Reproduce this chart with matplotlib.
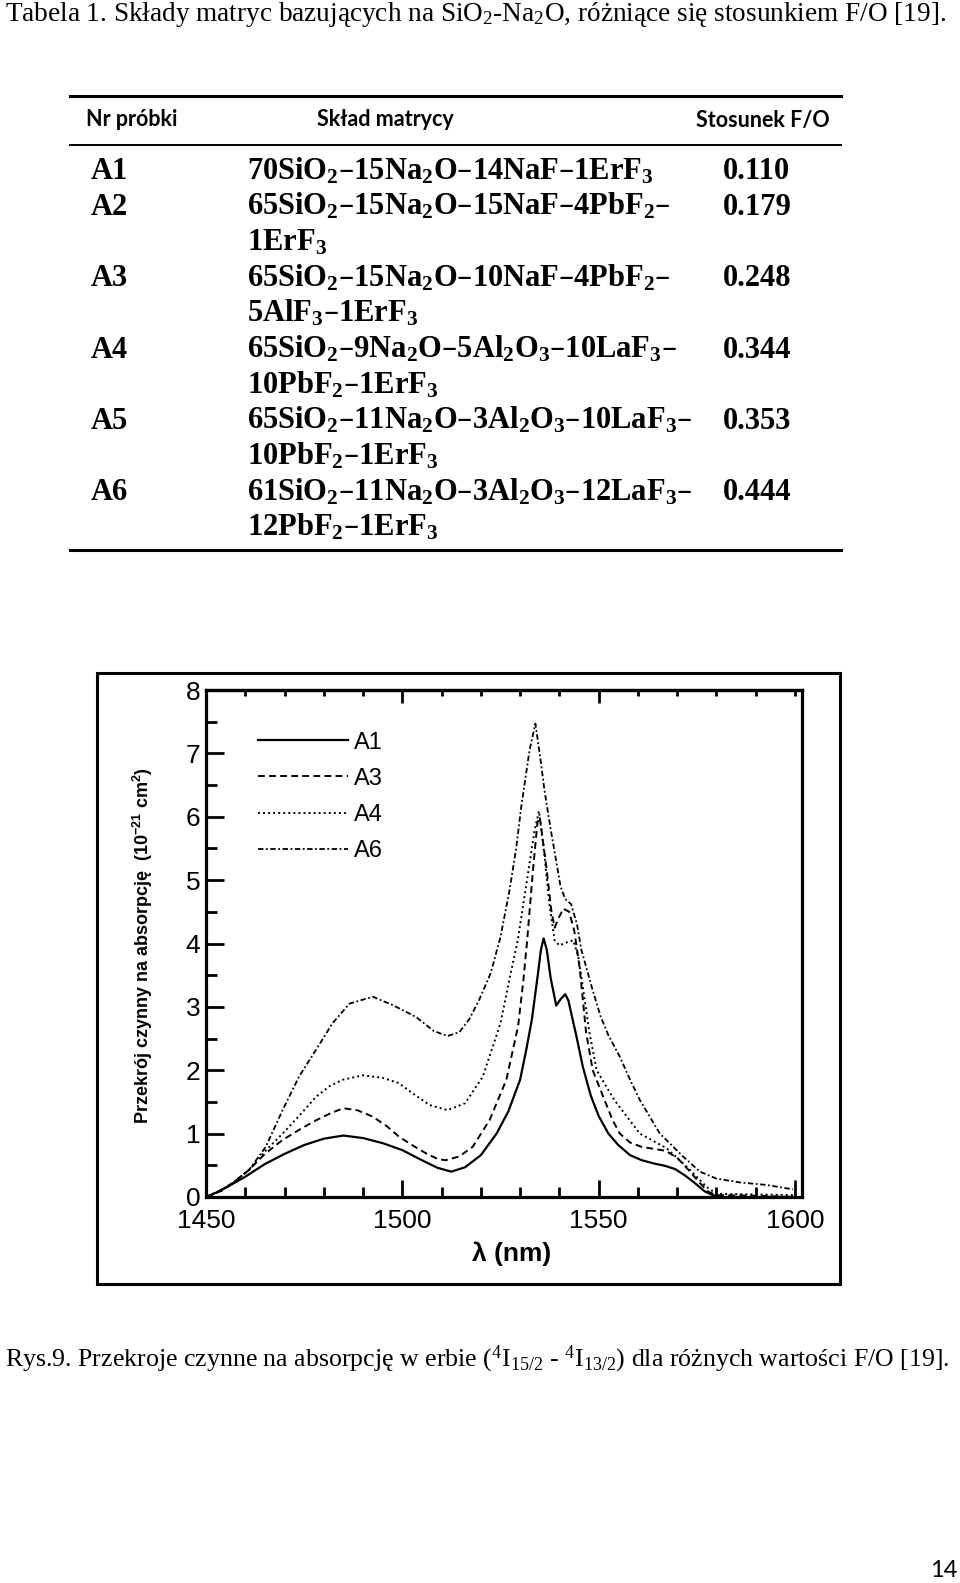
import matplotlib.pyplot as plt
from matplotlib.lines import Line2D
from matplotlib.patches import Rectangle
from matplotlib.ticker import MultipleLocator

plt.rcParams['font.family'] = 'Liberation Sans'
plt.rcParams['mathtext.default'] = 'regular'

# --- tabela ---
title = "Tabela 1. Składy matryc bazujących na SiO$_2$-Na$_2$O, różniące się stosunkiem F/O [19]."
headers = ["Nr próbki", "Skład matrycy", "Stosunek F/O"]
sample_ids = ["A1", "A2", "A3", "A4", "A5", "A6"]
compositions = [
    ["70SiO$_2$–15Na$_2$O–14NaF–1ErF$_3$"],
    ["65SiO$_2$–15Na$_2$O–15NaF–4PbF$_2$–", "1ErF$_3$"],
    ["65SiO$_2$–15Na$_2$O–10NaF–4PbF$_2$–", "5AlF$_3$–1ErF$_3$"],
    ["65SiO$_2$–9Na$_2$O–5Al$_2$O$_3$–10LaF$_3$–", "10PbF$_2$–1ErF$_3$"],
    ["65SiO$_2$–11Na$_2$O–3Al$_2$O$_3$–10LaF$_3$–", "10PbF$_2$–1ErF$_3$"],
    ["61SiO$_2$–11Na$_2$O–3Al$_2$O$_3$–12LaF$_3$–", "12PbF$_2$–1ErF$_3$"],
]
fo_ratios = ["0.110", "0.179", "0.248", "0.344", "0.353", "0.444"]

caption = ("Rys.9. Przekroje czynne na absorpcję w erbie ($^4$I$_{15/2}$ - $^4$I$_{13/2}$) "
           "dla różnych wartości F/O [19].")
page_number = "14"

# --- wykres: przekroj czynny na absorpcje ---
wl_a1 = [1450, 1453, 1456, 1460, 1465, 1470, 1475, 1480, 1485, 1490, 1495, 1500, 1505, 1509,
         1512.5, 1516, 1520, 1524, 1527, 1530, 1531.5, 1533, 1534.5, 1535.3, 1536, 1536.8,
         1537.8, 1539.2, 1540.3, 1541.5, 1542.3, 1543.2, 1544.3, 1546, 1548, 1550, 1552.5,
         1555, 1558, 1561, 1564, 1567, 1569.5, 1572, 1574.5, 1577, 1579, 1581, 1590, 1600]
sigma_a1 = [0.0, 0.08, 0.18, 0.32, 0.52, 0.68, 0.82, 0.92, 0.97, 0.93, 0.85, 0.74, 0.58, 0.46,
            0.40, 0.47, 0.66, 1.0, 1.35, 1.85, 2.3, 2.8, 3.5, 3.9, 4.08, 3.9,
            3.45, 3.02, 3.12, 3.2, 3.1, 2.85, 2.55, 2.05, 1.6, 1.28, 1.0,
            0.82, 0.66, 0.58, 0.53, 0.49, 0.44, 0.34, 0.22, 0.09, 0.03, 0.0, 0.0, 0.0]

wl_a3 = [1450, 1454, 1457.5, 1461, 1465, 1469.5, 1474, 1478, 1482, 1485, 1488.5, 1492.4, 1496,
         1499.2, 1503, 1506, 1509, 1511, 1514.5, 1517.9, 1522.2, 1526.5, 1529.5, 1530.8,
         1531.8, 1533.2, 1534.4, 1535, 1536.7, 1538, 1538.8, 1539.8, 1541, 1542.5, 1543.8,
         1545.2, 1546.8, 1548.5, 1551.5, 1553.5, 1555.4, 1558, 1561, 1564, 1567, 1570, 1573,
         1575.8, 1578, 1580, 1590, 1600]
sigma_a3 = [0.0, 0.1, 0.25, 0.43, 0.68, 0.9, 1.07, 1.21, 1.33, 1.40, 1.37, 1.27, 1.12,
            0.95, 0.8, 0.69, 0.6, 0.58, 0.64, 0.79, 1.21, 1.85, 2.7, 3.4,
            4.05, 5.1, 5.9, 6.0, 5.2, 4.5, 4.25, 4.4, 4.55, 4.5, 4.2,
            3.6, 2.6, 2.0, 1.53, 1.22, 1.0, 0.86, 0.79, 0.76, 0.73, 0.62, 0.42,
            0.22, 0.08, 0.03, 0.02, 0.0]

wl_a4 = [1450, 1454, 1457.5, 1461, 1465, 1469.5, 1474, 1478, 1481.5, 1484.8, 1490, 1495, 1499,
         1503, 1507, 1511.5, 1516, 1520.5, 1525, 1527.5, 1529.4, 1532, 1533.7, 1534.8, 1536.2,
         1537.5, 1538.8, 1540, 1542, 1543.5, 1544.8, 1546, 1547.7, 1549.5, 1554, 1560.5,
         1567.3, 1572.4, 1577.5, 1580, 1590, 1600]
sigma_a4 = [0.0, 0.1, 0.25, 0.43, 0.72, 1.0, 1.3, 1.58, 1.75, 1.85, 1.92, 1.88, 1.8,
            1.62, 1.45, 1.37, 1.48, 1.9, 2.74, 3.5, 4.05, 5.1, 5.79, 6.09, 5.4,
            4.6, 4.05, 3.97, 4.02, 4.05, 3.8, 3.3, 2.58, 2.0, 1.53, 1.0,
            0.77, 0.48, 0.16, 0.05, 0.04, 0.03]

wl_a6 = [1450, 1453.5, 1456.7, 1461, 1465.2, 1469.5, 1473.7, 1478, 1482.2, 1486.5, 1492.5,
         1497.5, 1503.5, 1508, 1511.5, 1514.5, 1517, 1519.5, 1522.5, 1525, 1527.3, 1529,
         1530.3, 1532.4, 1533.9, 1535.2, 1536.2, 1537.8, 1539, 1540.3, 1541.5, 1543, 1544.5,
         1545.6, 1548.5, 1550.5, 1552.5, 1555.5, 1558, 1560.5, 1565.6, 1571.5, 1575.8, 1580,
         1586, 1592.8, 1599.5]
sigma_a6 = [0.0, 0.1, 0.22, 0.43, 0.79, 1.37, 1.9, 2.32, 2.74, 3.05, 3.16,
            3.03, 2.84, 2.62, 2.54, 2.6, 2.8, 3.1, 3.53, 4.1, 4.84, 5.5,
            6.16, 7.05, 7.47, 6.9, 6.42, 5.8, 5.37, 4.9, 4.7, 4.62, 4.3,
            3.9, 3.26, 2.85, 2.55, 2.2, 1.85, 1.53, 1.0, 0.64, 0.40, 0.29,
            0.23, 0.19, 0.12]

series = [
    ("A1", wl_a1, sigma_a1, '-', 1.6),
    ("A3", wl_a3, sigma_a3, (0, (3.5, 2.2)), 1.4),
    ("A4", wl_a4, sigma_a4, (0, (1, 1.6)), 1.4),
    ("A6", wl_a6, sigma_a6, (0, (3, 1.4, 1, 1.4)), 1.3),
]

W, H = 960, 1583
fig = plt.figure(figsize=(W / 100, H / 100), dpi=100)


def fx(px):
    return px / W


def fy(py):
    return 1 - py / H


serif = 'Liberation Serif'

# tytul tabeli
fig.text(fx(5), fy(21), title, family=serif, fontsize=19.6, ha='left', va='baseline')

# linie tabeli
for y, lw in [(96, 2.2), (145, 1.4), (550, 2.2)]:
    fig.add_artist(Line2D([fx(70), fx(841)], [fy(y), fy(y)], color='black', lw=lw))

hdr = dict(family='Lato', fontsize=15.5, fontweight='bold', va='center')
fig.text(fx(86), fy(120), headers[0], ha='left', **hdr)
fig.text(fx(385), fy(120), headers[1], ha='center', **hdr)
fig.text(fx(830), fy(120), headers[2], ha='right', **hdr)

row = dict(family=serif, fontsize=22, fontweight='bold', ha='left', va='baseline')
row_h = 35.7
k = 0
for sid, comp, fo in zip(sample_ids, compositions, fo_ratios):
    base = 179 + row_h * k
    fig.text(fx(91), fy(base), sid, **row)
    fig.text(fx(723), fy(base), fo, **row)
    for j, line in enumerate(comp):
        fig.text(fx(247), fy(base + row_h * j), line, **row)
    k += len(comp)

# ramka wykresu
fig.add_artist(Rectangle((fx(97), fy(1284)), fx(840) - fx(97), fy(673) - fy(1284),
                         transform=fig.transFigure, fill=False, lw=2.2, color='black'))

ax = fig.add_axes([fx(206), fy(1197), fx(802) - fx(206), fy(690) - fy(1197)])
for name, wl, sig, ls, lw in series:
    ax.plot(wl, sig, color='black', linestyle=ls, lw=lw, label=name)

ax.set_xlim(1450, 1601.8)
ax.set_ylim(0, 8)
ax.set_xticks([1450, 1500, 1550, 1600])
ax.xaxis.set_minor_locator(MultipleLocator(10))
ax.set_yticks(range(9))
ax.yaxis.set_minor_locator(MultipleLocator(0.5))
ax.tick_params(which='both', direction='in', width=2, top=False, right=False, labelsize=19)
ax.tick_params(axis='y', which='major', length=13, pad=4)
ax.tick_params(axis='y', which='minor', length=8)
ax.tick_params(axis='x', which='major', length=12, pad=9)
ax.tick_params(axis='x', which='minor', length=7)
for sp in ax.spines.values():
    sp.set_linewidth(2.3)

top = ax.secondary_xaxis('top')
top.set_xticks([1500, 1550])
top.xaxis.set_minor_locator(MultipleLocator(10))
top.tick_params(which='both', direction='in', width=2, labeltop=False)
top.tick_params(which='major', length=9)
top.tick_params(which='minor', length=4)
top.spines['top'].set_linewidth(2.3)

ax.set_xlabel("λ (nm)", fontsize=19, fontweight='bold')
ax.xaxis.label.set_va('center')
ax.xaxis.set_label_coords(0.513, -0.112)
ax.set_ylabel("Przekrój czynny na absorpcję  (10$^{-21}$ cm$^{2}$)", fontsize=13,
              fontweight='bold')
ax.yaxis.label.set_va('center')
ax.yaxis.set_label_coords(-0.106, 0.495)

ax.legend(loc='upper left', bbox_to_anchor=(0.087, 0.918), frameon=False, fontsize=17,
          handlelength=3.8, handletextpad=0.25, labelspacing=0.6, borderaxespad=0,
          borderpad=0)

# podpis rysunku
fig.text(fx(5), fy(1366), caption, family=serif, fontsize=18.6, ha='left', va='baseline')
fig.text(fx(957), fy(1577), page_number, family='Lato', fontsize=17, ha='right',
         va='baseline')

fig.savefig('out.png', dpi=100)
